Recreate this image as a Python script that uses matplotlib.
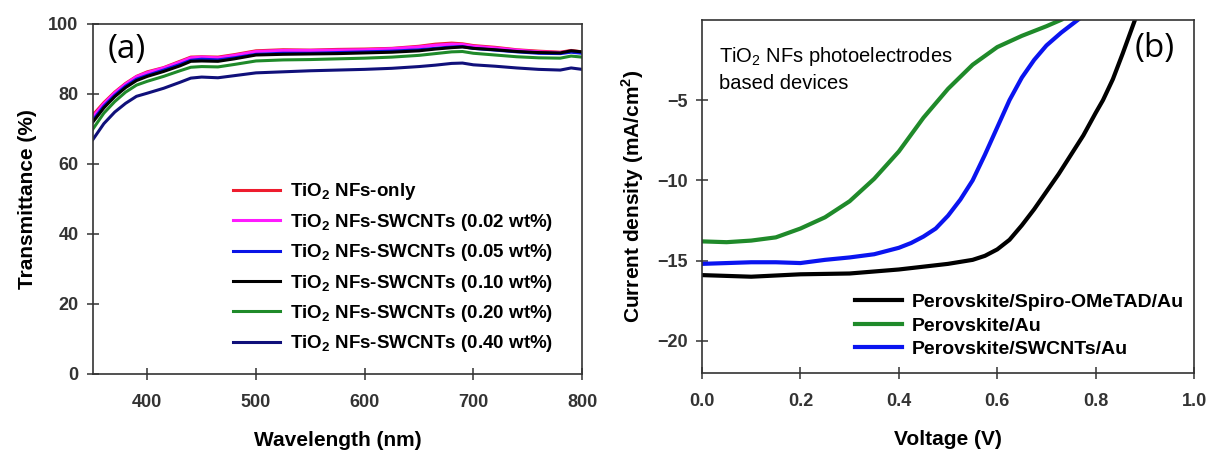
import numpy as np
import matplotlib
matplotlib.use("Agg")
import matplotlib.pyplot as plt

plt.rcParams['font.family'] = ['Liberation Sans', 'DejaVu Sans']
plt.rcParams['mathtext.fontset'] = 'custom'
plt.rcParams['mathtext.rm'] = 'Liberation Sans'
plt.rcParams['mathtext.bf'] = 'Liberation Sans:bold'

# (a) transmittance spectra
wl = [350, 360, 370, 380, 390, 400, 415, 430, 440, 450, 465, 480, 500, 525,
      550, 575, 600, 625, 650, 665, 680, 690, 700, 720, 740, 760, 780, 790, 800]
t_only = [74.0, 77.5, 80.5, 83.0, 85.0, 86.3, 87.5, 89.3, 90.5, 90.6, 90.5, 91.2, 92.3, 92.6,
          92.5, 92.7, 92.8, 93.0, 93.6, 94.2, 94.5, 94.3, 93.8, 93.3, 92.6, 92.2, 91.9, 92.4, 92.0]
t_002 = [73.5, 77.2, 80.3, 82.8, 84.9, 86.1, 87.4, 89.1, 90.3, 90.5, 90.3, 91.0, 92.1, 92.4,
         92.4, 92.5, 92.6, 92.9, 93.4, 93.9, 94.2, 94.1, 93.6, 93.1, 92.5, 92.0, 91.8, 92.2, 91.8]
t_005 = [72.5, 76.5, 79.6, 82.2, 84.2, 85.3, 86.8, 88.4, 89.6, 89.9, 89.7, 90.3, 91.3, 91.6,
         91.6, 91.8, 92.0, 92.2, 92.6, 93.0, 93.4, 93.5, 93.0, 92.5, 92.0, 91.6, 91.5, 91.9, 91.6]
t_010 = [72.0, 76.0, 79.2, 81.8, 83.8, 85.0, 86.4, 88.0, 89.3, 89.4, 89.3, 90.0, 91.1, 91.3,
         91.4, 91.5, 91.7, 91.9, 92.3, 92.8, 93.2, 93.4, 93.0, 92.6, 92.1, 91.8, 91.7, 92.3, 92.0]
t_020 = [70.0, 74.5, 77.8, 80.5, 82.5, 83.6, 85.0, 86.6, 87.6, 87.8, 87.7, 88.4, 89.4, 89.7,
         89.8, 90.0, 90.2, 90.5, 91.0, 91.5, 92.0, 92.1, 91.6, 91.1, 90.6, 90.3, 90.2, 90.8, 90.5]
t_040 = [67.0, 71.5, 74.8, 77.3, 79.3, 80.2, 81.6, 83.3, 84.5, 84.8, 84.6, 85.2, 86.0, 86.3,
         86.6, 86.8, 87.0, 87.3, 87.8, 88.2, 88.7, 88.8, 88.3, 87.9, 87.4, 87.0, 86.8, 87.4, 87.0]

labels_a = [r'TiO$_{\mathbf{2}}$ NFs-only',
            r'TiO$_{\mathbf{2}}$ NFs-SWCNTs (0.02 wt%)',
            r'TiO$_{\mathbf{2}}$ NFs-SWCNTs (0.05 wt%)',
            r'TiO$_{\mathbf{2}}$ NFs-SWCNTs (0.10 wt%)',
            r'TiO$_{\mathbf{2}}$ NFs-SWCNTs (0.20 wt%)',
            r'TiO$_{\mathbf{2}}$ NFs-SWCNTs (0.40 wt%)']
colors_a = ['#ee1c2e', '#ff1aff', '#0a14e6', '#000000', '#1f8a2a', '#10107a']

# (b) J-V curves
v_spiro = [0.0, 0.1, 0.2, 0.3, 0.4, 0.5, 0.55, 0.575, 0.6, 0.625, 0.65, 0.675, 0.7,
           0.725, 0.75, 0.775, 0.8, 0.815, 0.835, 0.855, 0.88]
j_spiro = [-15.9, -16.0, -15.85, -15.8, -15.55, -15.2, -14.95, -14.7, -14.3, -13.7, -12.8,
           -11.8, -10.7, -9.6, -8.4, -7.2, -5.8, -5.0, -3.7, -2.1, 0.0]
v_au = [0.0, 0.05, 0.1, 0.15, 0.2, 0.25, 0.3, 0.35, 0.4, 0.45, 0.5, 0.55, 0.6, 0.65, 0.7, 0.73]
j_au = [-13.8, -13.85, -13.75, -13.55, -13.0, -12.3, -11.3, -9.9, -8.2, -6.1, -4.3, -2.8,
        -1.7, -1.0, -0.4, 0.0]
v_cnt = [0.0, 0.05, 0.1, 0.15, 0.2, 0.25, 0.3, 0.35, 0.4, 0.425, 0.45, 0.475, 0.5, 0.525,
         0.55, 0.575, 0.6, 0.625, 0.65, 0.675, 0.7, 0.73, 0.764]
j_cnt = [-15.2, -15.15, -15.1, -15.1, -15.15, -14.95, -14.8, -14.6, -14.2, -13.9, -13.5,
         -13.0, -12.2, -11.2, -10.0, -8.4, -6.7, -5.0, -3.6, -2.5, -1.6, -0.8, 0.0]

fig = plt.figure(figsize=(12.11, 4.5), dpi=100)
ax1 = fig.add_axes([0.0768, 0.169, 0.4038, 0.778])
ax2 = fig.add_axes([0.5797, 0.171, 0.4063, 0.785])

series_a = [t_only, t_002, t_005, t_010, t_020, t_040]
for ys, lab, c in zip(series_a, labels_a, colors_a):
    ax1.plot(wl, ys, color=c, lw=2.2, label=lab)

ax1.set_xlim(350, 800)
ax1.set_ylim(0, 100)
ax1.set_xticks([400, 500, 600, 700, 800])
ax1.set_yticks([0, 20, 40, 60, 80, 100])
ax1.set_xlabel('Wavelength (nm)', fontsize=15, fontweight='bold', labelpad=14)
ax1.set_ylabel('Transmittance (%)', fontsize=15, fontweight='bold', labelpad=8)
ax1.text(0.03, 0.926, '(a)', transform=ax1.transAxes, fontsize=24,
         family='Open Sans', va='center')
ax1.legend(loc='upper left', bbox_to_anchor=(0.286, 0.55), frameon=False,
           borderaxespad=0, borderpad=0,
           prop={'size': 13.5, 'weight': 'bold'}, handlelength=2.5,
           labelspacing=0.5, handletextpad=0.55)

ax2.plot(v_spiro, j_spiro, color='black', lw=3, label='Perovskite/Spiro-OMeTAD/Au')
ax2.plot(v_au, j_au, color='#1f8a2a', lw=3, label='Perovskite/Au')
ax2.plot(v_cnt, j_cnt, color='#0a14f0', lw=3, label='Perovskite/SWCNTs/Au')
ax2.set_xlim(0, 1.0)
ax2.set_ylim(-22, 0)
ax2.set_xticks(np.arange(0, 1.01, 0.2))
ax2.set_xticklabels(['0.0', '0.2', '0.4', '0.6', '0.8', '1.0'])
ax2.set_yticks([-5, -10, -15, -20])
ax2.set_xlabel('Voltage (V)', fontsize=15, fontweight='bold', labelpad=14)
ax2.set_ylabel(r'Current density (mA/cm$^{\mathbf{2}}$)', fontsize=15,
               fontweight='bold', labelpad=8)
ax2.text(0.035, 0.93, 'TiO$_\\mathrm{2}$ NFs photoelectrodes\nbased devices',
         transform=ax2.transAxes, fontsize=14.5, va='top', linespacing=1.45)
ax2.text(0.88, 0.92, '(b)', transform=ax2.transAxes, fontsize=24,
         family='Open Sans', va='center')
ax2.legend(loc='upper left', bbox_to_anchor=(0.311, 0.225), frameon=False,
           borderaxespad=0, borderpad=0,
           prop={'size': 14, 'weight': 'bold'}, handlelength=2.4,
           labelspacing=0.3, handletextpad=0.5)

for ax in (ax1, ax2):
    for s in ax.spines.values():
        s.set_color('#333333')
        s.set_linewidth(1.2)
    ax.tick_params(direction='inout', length=9, width=1.1, labelsize=13,
                   colors='#333333')
    ax.tick_params(axis='x', pad=10)
    ax.tick_params(axis='y', pad=6)
    for lbl in ax.get_xticklabels() + ax.get_yticklabels():
        lbl.set_fontweight('bold')

fig.savefig('out.png', dpi=100)
